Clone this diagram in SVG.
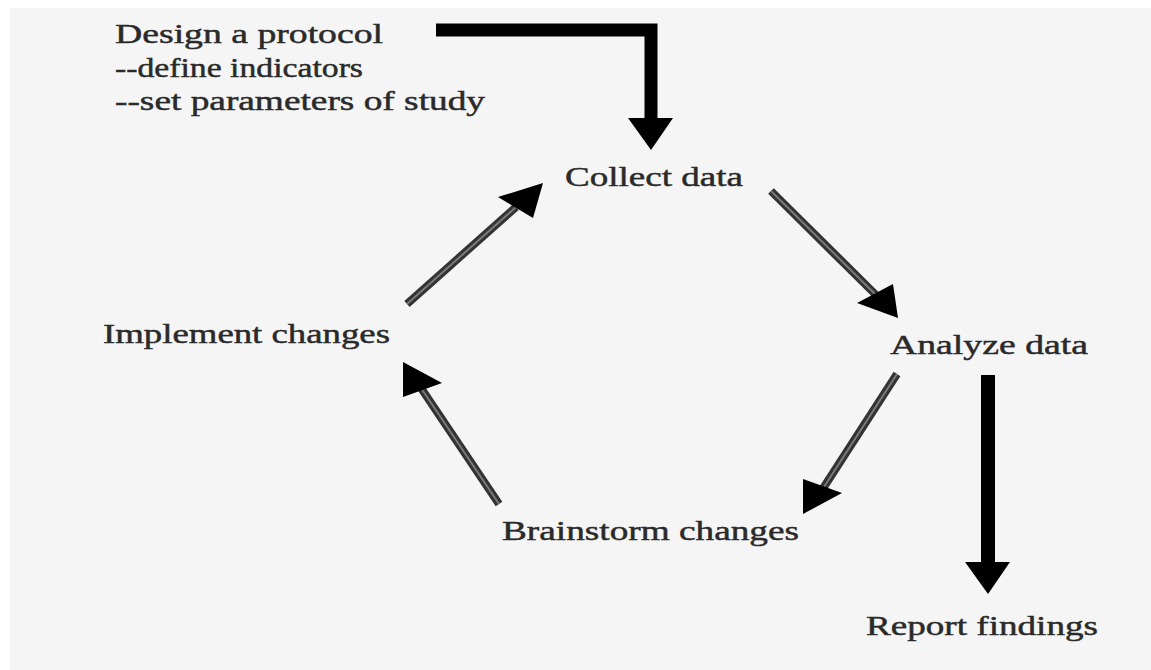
<svg xmlns="http://www.w3.org/2000/svg" width="1151" height="670" viewBox="0 0 1151 670">
<style>
text{font-family:"Liberation Serif","DejaVu Serif",serif;font-size:27px;fill:#2a2a2a;stroke:#2a2a2a;stroke-width:0.45;}
.solid{stroke:#000;stroke-width:13;fill:none;stroke-linejoin:miter;}
.outer{stroke:#333333;stroke-width:8;fill:none;}
.inner{stroke:#7a7a7a;stroke-width:2;fill:none;}
.head{fill:#000;}
</style>
<rect x="0" y="0" width="1151" height="670" fill="#ffffff"/>
<rect x="10" y="8" width="1141" height="662" fill="#f5f5f5"/>
<g id="connectors">
  <g id="c-design-collect">
    <polyline class="solid" points="436,30 651,30 651,120"/>
    <polygon class="head" points="628,118 673,118 651,150"/>
  </g>
  <g id="c-collect-analyze">
    <line class="outer" x1="771" y1="191" x2="876" y2="295"/>
    <line class="inner" x1="771" y1="191" x2="876" y2="295"/>
    <polygon class="head" points="857,303 893,284 898,318"/>
  </g>
  <g id="c-analyze-brainstorm">
    <line class="outer" x1="897" y1="374" x2="822" y2="490"/>
    <line class="inner" x1="897" y1="374" x2="822" y2="490"/>
    <polygon class="head" points="803,479 842,493 803,514"/>
  </g>
  <g id="c-brainstorm-implement">
    <line class="outer" x1="499" y1="504" x2="421" y2="388"/>
    <line class="inner" x1="499" y1="504" x2="421" y2="388"/>
    <polygon class="head" points="403,362 442,383 403,397"/>
  </g>
  <g id="c-implement-collect">
    <line class="outer" x1="407" y1="304" x2="516" y2="207"/>
    <line class="inner" x1="407" y1="304" x2="516" y2="207"/>
    <polygon class="head" points="498,197 533,218 543,183"/>
  </g>
  <g id="c-analyze-report">
    <line class="solid" x1="988" y1="375" x2="988" y2="564" style="stroke-width:14"/>
    <polygon class="head" points="965,562 1010,562 988,594"/>
  </g>
</g>
<g id="node-design">
  <text x="115" y="43" textLength="268" lengthAdjust="spacingAndGlyphs">Design a protocol</text>
  <text x="115" y="77" textLength="248" lengthAdjust="spacingAndGlyphs">--define indicators</text>
  <text x="115" y="110" textLength="370" lengthAdjust="spacingAndGlyphs">--set parameters of study</text>
</g>
<g id="node-collect">
  <text x="565" y="186" textLength="178" lengthAdjust="spacingAndGlyphs">Collect data</text>
</g>
<g id="node-analyze">
  <text x="890" y="354" textLength="198" lengthAdjust="spacingAndGlyphs">Analyze data</text>
</g>
<g id="node-implement">
  <text x="103" y="343" textLength="287" lengthAdjust="spacingAndGlyphs">Implement changes</text>
</g>
<g id="node-brainstorm">
  <text x="502" y="540" textLength="297" lengthAdjust="spacingAndGlyphs">Brainstorm changes</text>
</g>
<g id="node-report">
  <text x="866" y="635" textLength="232" lengthAdjust="spacingAndGlyphs">Report findings</text>
</g>
</svg>
